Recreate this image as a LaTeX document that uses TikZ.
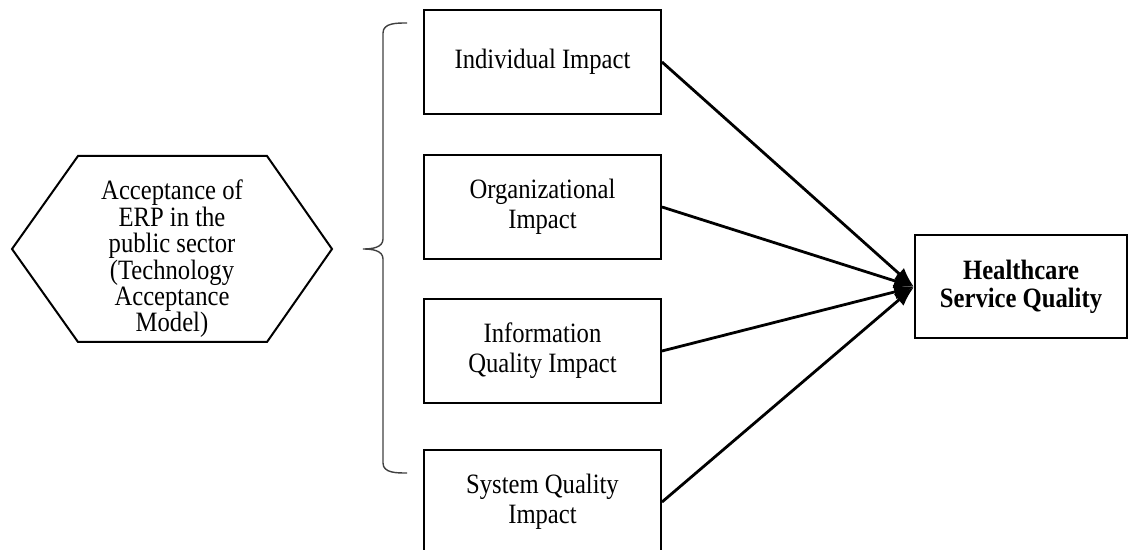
\documentclass[tikz,border=0pt]{standalone}
\usepackage{fontspec}
\setmainfont[FakeStretch=0.88]{Liberation Serif}
\usetikzlibrary{arrows.meta}

\tikzset{
	impbox/.style={draw,line width=1pt,minimum width=118.5pt,minimum height=52pt,align=center,font=\fontsize{14}{15}\selectfont},
	link/.style={line width=1.4pt,-{Latex[length=10pt,width=7.5pt]}}
}

\begin{document}
\begin{tikzpicture}[x=0.5pt,y=-0.5pt]
		\useasboundingbox (0,0) rectangle (1129,550);
		% acceptance hexagon
		\draw[line width=1pt] (12,249) -- (78,156) -- (267,156) -- (332,249) -- (267,342) -- (78,342) -- cycle;
		\node[align=center,font=\fontsize{14}{13.2}\selectfont] (tam) at (172,259)
			{Acceptance of\\ERP in the\\public sector\\(Technology\\Acceptance\\Model)};
		% brace
		\draw[line width=0.7pt,black!75] (407,23) to[out=180,in=90] (383,33) -- (383,239)
			to[out=-90,in=0] (363,249) to[out=0,in=90] (383,259) -- (383,463) to[out=-90,in=180] (407,473);
		% target
		\node[impbox,minimum width=106pt,minimum height=51.5pt,font=\fontsize{14}{14}\selectfont\bfseries] (hsq) at (1021,287) {Healthcare\\Service Quality};
		% impacts
		\foreach \n/\y/\txt in {1/62/{Individual Impact},2/207/{Organizational\\Impact},3/351/{Information\\Quality Impact},4/502/{System Quality\\Impact}}
		{
			\node[impbox] (imp\n) at (542.5,\y) {\txt};
			\draw[link] (imp\n.east) -- (hsq.west);
		}
	\end{tikzpicture}
\end{document}
